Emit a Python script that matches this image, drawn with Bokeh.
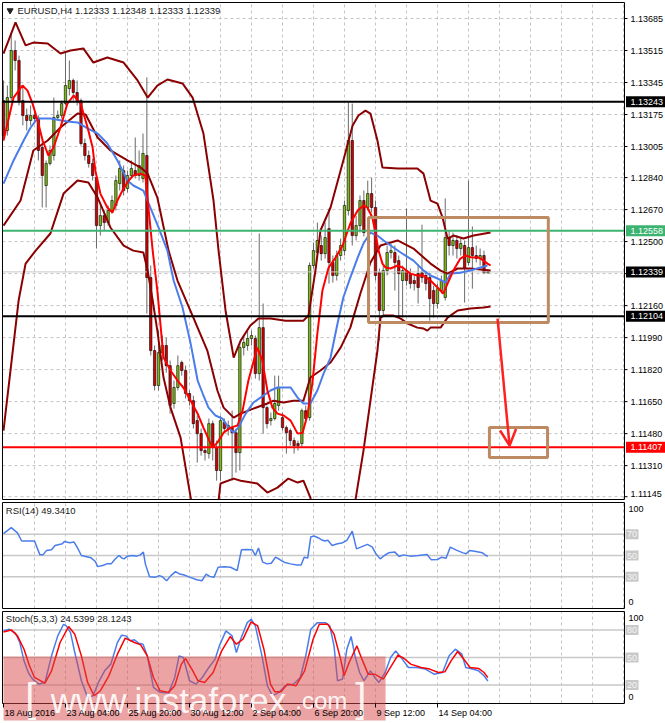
from bokeh.plotting import figure
from bokeh.layouts import column
from bokeh.models import Range1d, Arrow, OpenHead, ColumnDataSource
from bokeh.core.properties import value
from bokeh.embed import file_html
from bokeh.resources import INLINE

# ---------------- data ----------------
bar_open = [
    1.13249, 1.13090, 1.13265, 1.13515, 1.13462, 1.13249, 1.13170, 1.13143, 1.13170, 1.13154,
    1.13000, 1.12798, 1.12915, 1.12957, 1.13159, 1.13170, 1.13233, 1.13313, 1.13356, 1.13292,
    1.13249, 1.13021, 1.12957, 1.12915, 1.12840, 1.12585, 1.12638, 1.12601, 1.12665, 1.12692,
    1.12808, 1.12877, 1.12782, 1.12851, 1.12877, 1.12851, 1.12835, 1.12957, 1.12309, 1.11921,
    1.11735, 1.11910, 1.11948, 1.11841, 1.11640, 1.11725, 1.11858, 1.11815, 1.11693, 1.11655,
    1.11549, 1.11480, 1.11390, 1.11374, 1.11533, 1.11406, 1.11284, 1.11539, 1.11507, 1.11512,
    1.11485, 1.11379, 1.11937, 1.11948, 1.11985, 1.11985, 1.11799, 1.12043, 1.11618, 1.11549,
    1.11560, 1.11629, 1.11565, 1.11512, 1.11496, 1.11443, 1.11427, 1.11427, 1.11602, 1.11565,
    1.12373, 1.12442, 1.12479, 1.12436, 1.12569, 1.12389, 1.12320, 1.12426, 1.12452, 1.12665,
    1.13037, 1.12532, 1.12585, 1.12718, 1.12681, 1.12755, 1.12681, 1.12335, 1.12134, 1.12346,
    1.12442, 1.12442, 1.12399, 1.12293, 1.12346, 1.12330, 1.12293, 1.12330, 1.12335, 1.12320,
    1.12309, 1.12240, 1.12171, 1.12240, 1.12203, 1.12521, 1.12479, 1.12506, 1.12463, 1.12479,
    1.12389, 1.12468, 1.12426, 1.12410, 1.12426, 1.12333]
bar_high = [
    1.13356, 1.13329, 1.13611, 1.13568, 1.13488, 1.13329, 1.13207, 1.13223, 1.13196, 1.13170,
    1.13037, 1.12931, 1.13010, 1.13265, 1.13196, 1.13249, 1.13504, 1.13462, 1.13366, 1.13356,
    1.13260, 1.13047, 1.12984, 1.12941, 1.12851, 1.12692, 1.12665, 1.12692, 1.12745, 1.12851,
    1.12931, 1.12904, 1.12877, 1.12931, 1.13053, 1.12984, 1.13074, 1.13372, 1.12373, 1.11948,
    1.12027, 1.12001, 1.11990, 1.11868, 1.11762, 1.11895, 1.11868, 1.11841, 1.11709, 1.11682,
    1.11576, 1.11507, 1.11416, 1.11560, 1.11549, 1.11443, 1.11576, 1.11560, 1.11549, 1.11602,
    1.11507, 1.11958, 1.12001, 1.12027, 1.12027, 1.12001, 1.12543, 1.12171, 1.11629, 1.11592,
    1.11788, 1.11788, 1.11592, 1.11523, 1.11507, 1.11459, 1.11443, 1.11613, 1.11629, 1.12389,
    1.12495, 1.12601, 1.12532, 1.12601, 1.12676, 1.12426, 1.12452, 1.12516, 1.12718, 1.13239,
    1.13233, 1.12638, 1.12745, 1.12771, 1.12824, 1.12840, 1.12718, 1.12357, 1.12373, 1.12479,
    1.12490, 1.12479, 1.12426, 1.12373, 1.12676, 1.12357, 1.12320, 1.12373, 1.12590, 1.12346,
    1.12335, 1.12266, 1.12277, 1.12320, 1.12729, 1.12559, 1.12548, 1.12532, 1.12516, 1.12506,
    1.12824, 1.12580, 1.12479, 1.12463, 1.12452, 1.12348]
bar_low = [
    1.13037, 1.13063, 1.13249, 1.13409, 1.13223, 1.13117, 1.13090, 1.13117, 1.13127, 1.12931,
    1.12681, 1.12681, 1.12904, 1.12931, 1.13143, 1.13154, 1.13223, 1.13276, 1.13249, 1.13223,
    1.13010, 1.12931, 1.12893, 1.12824, 1.12463, 1.12532, 1.12559, 1.12585, 1.12649, 1.12665,
    1.12771, 1.12745, 1.12761, 1.12835, 1.12835, 1.12824, 1.12814, 1.12118, 1.11895, 1.11709,
    1.11709, 1.11868, 1.11804, 1.11586, 1.11613, 1.11709, 1.11788, 1.11666, 1.11629, 1.11507,
    1.11326, 1.11363, 1.11337, 1.11347, 1.11337, 1.11230, 1.11230, 1.11485, 1.11470, 1.11230,
    1.11273, 1.11284, 1.11895, 1.11921, 1.11948, 1.11772, 1.11762, 1.11480, 1.11507, 1.11523,
    1.11549, 1.11602, 1.11496, 1.11374, 1.11416, 1.11374, 1.11390, 1.11406, 1.11539, 1.11549,
    1.12357, 1.12410, 1.12399, 1.12410, 1.12277, 1.12282, 1.12293, 1.12399, 1.12426, 1.12638,
    1.12479, 1.12506, 1.12548, 1.12527, 1.12665, 1.12654, 1.12293, 1.11974, 1.12107, 1.12320,
    1.12410, 1.12240, 1.12096, 1.12096, 1.12266, 1.12250, 1.12240, 1.12171, 1.12282, 1.12240,
    1.12080, 1.12096, 1.12144, 1.12224, 1.12187, 1.12426, 1.12426, 1.12410, 1.12426, 1.12176,
    1.12373, 1.12250, 1.12389, 1.12373, 1.12330, 1.12333]
bar_close = [
    1.13063, 1.13265, 1.13515, 1.13462, 1.13249, 1.13170, 1.13143, 1.13170, 1.13154, 1.12984,
    1.12851, 1.12915, 1.12984, 1.13159, 1.13170, 1.13233, 1.13329, 1.13356, 1.13292, 1.13249,
    1.13021, 1.12957, 1.12915, 1.12851, 1.12585, 1.12638, 1.12601, 1.12665, 1.12718, 1.12824,
    1.12888, 1.12771, 1.12851, 1.12888, 1.12851, 1.12904, 1.12968, 1.12309, 1.11921, 1.11735,
    1.11910, 1.11948, 1.11841, 1.11629, 1.11725, 1.11841, 1.11815, 1.11693, 1.11655, 1.11533,
    1.11480, 1.11390, 1.11379, 1.11533, 1.11406, 1.11284, 1.11549, 1.11507, 1.11523, 1.11485,
    1.11379, 1.11937, 1.11964, 1.11985, 1.12001, 1.11799, 1.12043, 1.11618, 1.11533, 1.11560,
    1.11640, 1.11725, 1.11512, 1.11485, 1.11443, 1.11416, 1.11416, 1.11602, 1.11560, 1.12373,
    1.12452, 1.12506, 1.12436, 1.12521, 1.12389, 1.12320, 1.12426, 1.12479, 1.12692, 1.13037,
    1.12532, 1.12585, 1.12718, 1.12548, 1.12755, 1.12681, 1.12320, 1.12134, 1.12346, 1.12442,
    1.12452, 1.12389, 1.12330, 1.12346, 1.12293, 1.12277, 1.12277, 1.12256, 1.12309, 1.12277,
    1.12197, 1.12171, 1.12250, 1.12293, 1.12521, 1.12479, 1.12506, 1.12463, 1.12490, 1.12357,
    1.12468, 1.12426, 1.12410, 1.12426, 1.12335, 1.12339]

# indicator lines: (bar index, price)
bb_upper = [
    (0, 1.13499), (3.1, 1.13664), (5.7, 1.13542), (7.7, 1.13557), (11.4, 1.13552), (14.7, 1.13499),
    (17.3, 1.13515), (20.6, 1.13526), (23.2, 1.13451), (26.8, 1.13478), (31.0, 1.13451), (34.6, 1.13356),
    (37.2, 1.13265), (39.7, 1.13329), (42.3, 1.13361), (46.2, 1.13340), (48.8, 1.13265), (51.6, 1.13074),
    (54.2, 1.12718), (55.5, 1.12452), (57.3, 1.12134), (59.4, 1.11884), (61.2, 1.11974), (63.7, 1.12054),
    (65.8, 1.12091), (68.9, 1.12091), (72.8, 1.12080), (77.4, 1.12080), (78.7, 1.12107), (80.5, 1.12346),
    (81.8, 1.12559), (84.4, 1.12681), (87.7, 1.12931), (90.1, 1.13117), (91.6, 1.13170), (93.4, 1.13196),
    (94.7, 1.13180), (96.5, 1.13037), (97.8, 1.12893), (101.7, 1.12888), (106.8, 1.12888), (108.4, 1.12861),
    (110.2, 1.12718), (112.0, 1.12702), (113.3, 1.12628), (114.6, 1.12516), (116.1, 1.12532), (118.7, 1.12516),
    (121.3, 1.12532), (125.7, 1.12548)]
bb_middle = [
    (0, 1.12585), (4.4, 1.12718), (7.7, 1.12984), (11.4, 1.13037), (14.7, 1.13106), (19.1, 1.13180),
    (21.2, 1.13175), (24.3, 1.13053), (27.6, 1.12984), (32.0, 1.12931), (35.4, 1.12893), (37.2, 1.12861),
    (39.7, 1.12734), (42.6, 1.12452), (44.9, 1.12293), (49.0, 1.12096), (52.6, 1.11921), (55.2, 1.11709),
    (56.8, 1.11618), (59.4, 1.11565), (61.2, 1.11586), (64.5, 1.11613), (68.1, 1.11640), (69.7, 1.11655),
    (72.3, 1.11645), (74.8, 1.11655), (77.4, 1.11655), (79.2, 1.11778), (81.8, 1.11815), (84.4, 1.11858),
    (87.0, 1.11937), (89.5, 1.12043), (92.1, 1.12224), (94.7, 1.12389), (97.3, 1.12479), (101.7, 1.12506),
    (105.8, 1.12463), (110.2, 1.12383), (112.8, 1.12346), (114.6, 1.12330), (117.2, 1.12357), (120.5, 1.12357),
    (125.7, 1.12346)]
bb_lower = [
    (0, 1.11496), (1.8, 1.11815), (3.9, 1.12187), (5.7, 1.12383), (8.3, 1.12452), (12.1, 1.12543),
    (15.5, 1.12755), (19.1, 1.12824), (21.9, 1.12814), (24.3, 1.12734), (27.6, 1.12575), (31.0, 1.12479),
    (33.5, 1.12452), (36.1, 1.12442), (37.2, 1.12346), (38.5, 1.12187), (39.7, 1.12027), (41.3, 1.11778),
    (43.1, 1.11618), (45.7, 1.11459), (48.3, 1.11140), (49.8, 1.10965), (52.1, 1.10806), (55.5, 1.11124),
    (56.0, 1.11215), (59.4, 1.11241), (61.2, 1.11230), (65.5, 1.11215), (68.1, 1.11167), (70.7, 1.11193),
    (73.5, 1.11241), (75.9, 1.11220), (77.4, 1.11230), (79.2, 1.11140), (80.5, 1.10965), (85.7, 1.10752),
    (90.8, 1.11124), (92.9, 1.11390), (94.7, 1.11655), (96.5, 1.11921), (97.3, 1.12096), (98.1, 1.12107),
    (100.6, 1.12107), (102.5, 1.12091), (104.3, 1.12065), (106.8, 1.12043), (108.4, 1.12038), (109.4, 1.12027),
    (110.2, 1.12043), (112.8, 1.12043), (114.6, 1.12096), (117.2, 1.12134), (120.5, 1.12144), (123.9, 1.12150),
    (125.7, 1.12155)]
ma_fast = [
    (0, 1.13037), (2.6, 1.13265), (4.9, 1.13329), (6.2, 1.13302), (7.5, 1.13233), (8.8, 1.13143),
    (10.1, 1.13037), (11.6, 1.12957), (12.9, 1.13000), (14.7, 1.13106), (16.5, 1.13233), (18.1, 1.13276),
    (19.9, 1.13233), (21.7, 1.13106), (23.0, 1.13000), (23.7, 1.12877), (25.0, 1.12755), (26.8, 1.12681),
    (28.1, 1.12654), (29.4, 1.12718), (30.7, 1.12771), (32.3, 1.12824), (33.5, 1.12851), (35.4, 1.12861),
    (36.6, 1.12851), (37.4, 1.12681), (38.5, 1.12452), (39.7, 1.12240), (41.3, 1.11884), (43.1, 1.11815),
    (44.9, 1.11762), (46.4, 1.11725), (48.3, 1.11655), (50.1, 1.11586), (51.6, 1.11512), (53.9, 1.11406),
    (55.2, 1.11432), (56.8, 1.11485), (58.6, 1.11512), (60.4, 1.11523), (61.7, 1.11602), (63.2, 1.11762),
    (65.5, 1.11937), (66.8, 1.11868), (68.1, 1.11709), (69.4, 1.11618), (70.7, 1.11586), (72.3, 1.11576),
    (74.1, 1.11549), (75.9, 1.11480), (77.2, 1.11485), (78.5, 1.11586), (79.7, 1.11746), (81.0, 1.12012),
    (82.3, 1.12240), (83.9, 1.12362), (85.7, 1.12415), (87.5, 1.12479), (89.5, 1.12596), (91.4, 1.12665),
    (92.9, 1.12692), (93.9, 1.12681), (95.2, 1.12628), (96.0, 1.12543), (96.8, 1.12452), (97.8, 1.12383),
    (98.6, 1.12362), (99.9, 1.12357), (101.7, 1.12373), (103.0, 1.12362), (105.0, 1.12330), (106.8, 1.12320),
    (108.4, 1.12320), (110.2, 1.12293), (112.0, 1.12256), (113.5, 1.12224), (114.6, 1.12277), (116.1, 1.12346),
    (117.9, 1.12410), (119.2, 1.12426), (121.0, 1.12415), (122.6, 1.12415), (123.9, 1.12399), (124.9, 1.12383),
    (125.7, 1.12373)]
ma_slow = [
    (0, 1.12808), (2.6, 1.12931), (5.2, 1.13037), (7.0, 1.13106), (8.8, 1.13154), (12.1, 1.13154),
    (16.5, 1.13138), (19.1, 1.13133), (21.7, 1.13101), (24.3, 1.13074), (26.8, 1.13021), (29.4, 1.12931),
    (32.0, 1.12824), (33.5, 1.12798), (36.1, 1.12771), (37.9, 1.12681), (40.0, 1.12575), (42.3, 1.12452),
    (43.9, 1.12293), (46.2, 1.12150), (48.3, 1.11958), (50.1, 1.11762), (51.4, 1.11693), (52.9, 1.11618),
    (54.7, 1.11576), (56.5, 1.11560), (58.1, 1.11512), (59.4, 1.11485), (60.6, 1.11512), (62.5, 1.11586),
    (64.5, 1.11645), (66.3, 1.11671), (68.9, 1.11709), (70.7, 1.11725), (74.1, 1.11725), (75.9, 1.11671),
    (77.4, 1.11640), (79.2, 1.11640), (81.0, 1.11709), (82.6, 1.11799), (84.4, 1.11884), (86.2, 1.12065),
    (87.7, 1.12203), (89.5, 1.12309), (91.4, 1.12415), (92.9, 1.12490), (94.7, 1.12548), (96.5, 1.12532),
    (98.1, 1.12506), (99.9, 1.12479), (102.5, 1.12442), (105.8, 1.12399), (108.4, 1.12346), (110.2, 1.12320),
    (112.0, 1.12304), (114.1, 1.12282), (115.4, 1.12330), (117.9, 1.12335), (120.5, 1.12346), (123.1, 1.12362),
    (124.9, 1.12373)]

price_ticks = [1.13685, 1.13515, 1.13345, 1.13175, 1.13005, 1.12840, 1.12670, 1.12500,
               1.12330, 1.12160, 1.11990, 1.11820, 1.11650, 1.11480, 1.11310, 1.11145]
level_black = [1.13243, 1.12104]
level_green = 1.12558
level_red = 1.11407
bid_price = 1.12339
title_text = "EURUSD,H4  1.12333 1.12348 1.12333 1.12339"

date_ticks = [0, 16, 32, 48, 64, 80, 96, 112]
date_labels = ["18 Aug 2016", "23 Aug 04:00", "25 Aug 20:00", "30 Aug 12:00",
               "2 Sep 04:00", "6 Sep 20:00", "9 Sep 12:00", "14 Sep 04:00"]
grid_bars = list(range(8, 161, 8))

# range box and target box (bar from, bar to, price top, price bottom)
zone_box = (94.2, 140.6, 1.12628, 1.12070)
target_box = (125.4, 140.4, 1.11512, 1.11353)
arrow_from = (127.5, 1.12091)
arrow_to = (130.6, 1.11416)

rsi_title = "RSI(14) 49.3410"
rsi_bar = [0, 2, 3.6, 4.7, 8, 9.4, 10.2, 11.1, 12.4, 13.3, 15.2, 15.7, 17.1, 18.2, 19, 20.1, 21.2, 22.6,
           23.7, 24.3, 25.6, 26.7, 27.8, 28.7, 29.8, 30.6, 31.1, 32, 33.3, 34.4, 35.3, 36.1, 36.6, 37.7,
           39.1, 40.2, 41, 42.1, 43.2, 44.4, 45.5, 46.6, 48.2, 49.9, 51.2, 52.3, 53.2, 54.3, 55.4, 57,
           58.6, 60.3, 61.4, 62.8, 64.2, 65, 65.8, 66.9, 68, 69.1, 70.2, 71.3, 72.4, 74.1, 75.7, 76.8,
           77.6, 78.5, 79.3, 80.1, 81.2, 82, 82.9, 83.7, 84.8, 86.2, 87.3, 88.6, 90, 91.1, 92.2, 93.9,
           95.2, 96.1, 97.2, 98.3, 99.4, 101, 102.1, 103.2, 104.9, 107.1, 109.3, 110.4, 112, 113.1,
           114.2, 115.3, 117, 118.6, 119.4, 120.3, 121.9, 123.6, 124.5, 125]
rsi_val = [70.6, 76.3, 71.3, 63.7, 63.7, 50.6, 50.6, 54.8, 55.4, 59.5, 61.1, 63.3, 62.1, 62.7, 57.9, 50.0,
           49.0, 47.8, 44.3, 39.5, 40.5, 42.1, 42.1, 46.2, 50.0, 47.5, 46.8, 49.4, 50.0, 49.4, 50.6, 53.2,
           42.1, 30.0, 29.4, 31.0, 30.0, 26.2, 31.0, 34.8, 32.5, 31.6, 29.4, 27.1, 26.2, 32.5, 30.3, 29.4,
           38.9, 39.5, 38.9, 35.7, 55.4, 55.7, 55.4, 50.0, 57.0, 43.7, 42.1, 42.7, 48.4, 46.2, 43.7, 42.1,
           41.1, 41.1, 48.4, 47.5, 67.5, 68.4, 66.8, 64.9, 63.7, 64.3, 59.5, 61.1, 61.7, 64.3, 72.9, 56.3,
           57.9, 60.5, 57.9, 51.6, 46.8, 50.0, 52.5, 53.2, 49.0, 50.6, 49.4, 50.0, 51.0, 45.9, 46.2, 48.4,
           47.5, 57.9, 54.8, 52.5, 51.6, 54.8, 53.8, 52.5, 50.0, 49.3]
rsi_levels = [70, 50, 30]

stoch_title = "Stoch(5,3,3) 24.5399 28.1243"
stoch_k_bar = [0, 1.4, 3.1, 4.2, 5.3, 6.4, 7.5, 9.1, 10.7, 12.4, 14.0, 15.5, 16.2, 17.3, 18.4, 20.1, 21.7,
               23.1, 24.5, 26.1, 27.7, 29.4, 30.5, 31.6, 32.7, 33.8, 34.9, 36.0, 37.1, 38.7, 40.4, 42.6,
               44.2, 45.3, 46.4, 48.0, 49.7, 51.3, 53.0, 54.6, 55.7, 57.4, 59.0, 60.1, 61.2, 62.9, 63.9,
               65.0, 66.7, 68.1, 69.4, 71.1, 72.7, 74.9, 76.6, 78.0, 79.3, 81.0, 83.1, 84.2, 85.3, 86.2,
               87.5, 88.6, 89.7, 90.8, 91.9, 93.0, 94.7, 95.8, 96.9, 98.5, 99.9, 101.2, 102.9, 104.5,
               106.7, 108.9, 111.1, 113.3, 115.0, 116.6, 118.3, 119.3, 121.0, 122.6, 124.0, 125]
stoch_k_val = [78.9, 80.7, 76.4, 66.3, 46.4, 33.7, 26.5, 21.1, 22.9, 51.8, 73.5, 86.1, 84.3, 77.1, 55.4,
               24.7, 6.6, 8.4, 22.9, 35.5, 42.8, 66.3, 74.2, 73.5, 68.1, 69.2, 65.5, 64.5, 51.8, 17.5,
               12.1, 11.3, 28.3, 51.8, 50.0, 24.7, 21.1, 28.3, 39.2, 48.2, 62.6, 78.9, 73.5, 55.4, 69.9,
               87.9, 91.6, 84.3, 51.8, 19.3, 8.4, 12.1, 19.3, 21.1, 28.3, 51.8, 80.7, 87.9, 87.9, 84.3,
               62.6, 24.7, 26.5, 59.0, 72.8, 50.0, 33.7, 24.7, 35.5, 28.3, 22.9, 33.7, 50.0, 57.2, 48.2,
               39.2, 39.2, 37.4, 31.9, 33.7, 51.8, 59.0, 53.6, 39.2, 37.4, 35.5, 30.1, 24.5]
stoch_d_bar = [0, 2.0, 3.6, 5.3, 6.7, 8.0, 10.7, 12.4, 14.6, 16.8, 18.4, 20.1, 21.7, 23.4, 25.0, 27.2,
               29.4, 31.4, 33.8, 35.4, 37.1, 38.7, 40.4, 42.6, 44.2, 45.9, 47.0, 48.6, 50.2, 51.9, 54.1,
               56.3, 58.5, 60.1, 61.8, 63.9, 65.6, 67.2, 68.9, 70.0, 71.6, 73.3, 75.5, 77.7, 79.9, 81.5,
               83.7, 85.3, 87.0, 87.9, 89.2, 91.2, 92.5, 94.1, 95.8, 98.0, 100.1, 101.8, 103.4, 105.1,
               107.8, 110.0, 112.2, 113.9, 115.5, 117.2, 118.8, 120.4, 122.6, 124.0, 125]
stoch_d_val = [77.8, 80.0, 73.5, 59.0, 41.0, 28.3, 22.2, 35.5, 66.3, 83.6, 75.3, 51.8, 22.9, 8.4, 13.9,
               30.1, 53.6, 71.0, 66.3, 63.7, 51.8, 28.3, 13.9, 12.1, 19.3, 42.8, 48.9, 37.4, 24.7, 22.9,
               33.7, 57.2, 72.8, 64.5, 69.9, 88.7, 84.3, 59.0, 21.1, 12.8, 12.8, 21.1, 19.3, 35.5, 69.9,
               86.1, 86.1, 75.3, 48.2, 30.1, 44.6, 62.6, 48.2, 31.9, 31.9, 26.5, 41.0, 52.5, 48.9, 42.8,
               39.2, 37.4, 33.7, 34.5, 46.4, 56.5, 48.2, 39.2, 38.1, 33.7, 28.1]
stoch_levels = [80, 50, 20]
watermark_text = ["[", "www.instaforex", ".com", "]"]
watermark_bar = [5.6, 12.2, 75.3, 90.8]

# ---------------- geometry / style ----------------
FONT = "Liberation Sans"
W = 665
XA, XB = -0.774, 170.84         # whole canvas in bar units
XL, XF = -0.258, 160.26         # chart frame left / right edge
XR = Range1d(XA, XB)
PXB = W / (XB - XA)             # pixels per bar


def bx(px):
    return px / PXB


GRID_C = "#C4C4C4"
LEVEL_C = "#C8C8C8"
BAND_C = "#8B0000"
BLUE_C = "#4A7DEB"
BULL_C = "#7DBB12"
BEAR_C = "#D40000"
WICK_C = "#6A6A6A"
BOX_C = "#BD8A62"


def panel(h, y0, y1):
    p = figure(width=W, height=h, x_range=XR, y_range=Range1d(y0, y1), output_backend="svg",
               toolbar_location=None, tools="", x_axis_location=None, y_axis_location=None,
               min_border=0, min_border_left=0, min_border_right=0, min_border_top=0,
               min_border_bottom=0)
    p.outline_line_color = None
    p.xgrid.visible = False
    p.ygrid.visible = False
    p.background_fill_color = "white"
    p.border_fill_color = "white"
    return p


def txt(p, xs, ys, texts, color="black", size="9px", align="left", baseline="middle", alpha=1.0):
    p.text(x=xs, y=ys, text=texts, text_font=value(FONT), text_font_size=value(size),
           text_color=color, text_align=align, text_baseline=baseline, text_alpha=alpha)


def vgrid(p, y0, y1):
    p.segment(x0=grid_bars, x1=grid_bars, y0=[y0] * len(grid_bars), y1=[y1] * len(grid_bars),
              line_color=GRID_C, line_dash="3 3", line_width=1)


def border(p, y0, y1):
    p.quad(left=[XL], right=[XF], bottom=[y0], top=[y1], fill_color=None,
           line_color="black", line_width=1)


def level_tags(p, levels, k):
    p.quad(left=[XF + bx(1)] * len(levels), right=[XF + bx(14)] * len(levels),
           bottom=[v - 5 / k for v in levels], top=[v + 5 / k for v in levels],
           fill_color=LEVEL_C, line_color=None)
    txt(p, [XF + bx(2.5)] * len(levels), levels, [str(v) for v in levels], color="#F6F6F6")


# ---------------- main price panel (canvas rows 0..500, frame 2..499) ----------------
M_TOP, M_BOT = 1.13770, 1.11130
MK = 497.0 / (M_TOP - M_BOT)
pm = panel(500, M_BOT - 1.0 / MK, M_TOP + 2.0 / MK)

vgrid(pm, M_BOT, M_TOP)
pm.segment(x0=[XL] * len(price_ticks), x1=[XF] * len(price_ticks), y0=price_ticks, y1=price_ticks,
           line_color=GRID_C, line_dash="3 3", line_width=1)

idx = list(range(len(bar_close)))
src = ColumnDataSource(dict(
    x=idx, o=bar_open, h=bar_high, l=bar_low, c=bar_close,
    top=[max(a, b) for a, b in zip(bar_open, bar_close)],
    bot=[min(a, b) for a, b in zip(bar_open, bar_close)],
    col=[BULL_C if c >= o else BEAR_C for o, c in zip(bar_open, bar_close)]))
pm.segment(x0="x", y0="l", x1="x", y1="h", source=src, line_color=WICK_C, line_width=1)
pm.vbar(x="x", width=0.62, top="top", bottom="bot", source=src, fill_color="col",
        line_color="black", line_width=0.6)

pm.segment(x0=[XL], x1=[XF], y0=[bid_price], y1=[bid_price], line_color=LEVEL_C, line_width=1)
for pts, colr, wd in [(bb_upper, BAND_C, 2), (bb_middle, BAND_C, 2), (bb_lower, BAND_C, 2),
                      (ma_slow, BLUE_C, 2), (ma_fast, "#FF0000", 2)]:
    pm.line([a for a, b in pts], [b for a, b in pts], line_color=colr, line_width=wd)

hl = [level_black[0], level_green, level_black[1], level_red]
hl_c = ["black", "#3CB371", "black", "#FF0000"]
pm.segment(x0=[XL] * 4, x1=[XF] * 4, y0=hl, y1=hl, line_color=hl_c, line_width=2)

pm.quad(left=[zone_box[0], target_box[0]], right=[zone_box[1], target_box[1]],
        top=[zone_box[2], target_box[2]], bottom=[zone_box[3], target_box[3]],
        fill_color=None, line_color=BOX_C, line_width=3)
pm.add_layout(Arrow(end=OpenHead(size=16, line_color="#FF2020", line_width=2.5),
                    x_start=arrow_from[0], y_start=arrow_from[1], x_end=arrow_to[0], y_end=arrow_to[1],
                    line_color="#FF2020", line_width=2.5))

border(pm, M_BOT, M_TOP)
# price scale (the lowest label is lifted a little so it stays inside the canvas)
pm.segment(x0=[XF] * len(price_ticks), x1=[XF + bx(3)] * len(price_ticks), y0=price_ticks,
           y1=price_ticks, line_color="black", line_width=1)
label_y = [max(t, M_BOT + 5.5 / MK) for t in price_ticks]
txt(pm, [XF + bx(6)] * len(price_ticks), label_y, ["%.5f" % t for t in price_ticks])
tag_y = [level_black[0], level_green, bid_price, level_black[1], level_red]
tag_bg = ["black", "#3CB371", "black", "black", "#FF0000"]
hh = 5.5 / MK
pm.quad(left=[XF + bx(1.5)] * 5, right=[XB] * 5, bottom=[y - hh for y in tag_y],
        top=[y + hh for y in tag_y], fill_color=tag_bg, line_color=None)
txt(pm, [XF + bx(6)] * 5, tag_y, ["%.5f" % t for t in tag_y], color="white")

pm.scatter([1.7], [1.137275], marker="inverted_triangle", size=6, color="#202020")
txt(pm, [3.6], [1.137275], [title_text], color="#202020", size="9.5px")

# ---------------- RSI panel (canvas rows 500..609, frame 502..608) ----------------
RK = 106.0 / 100
pr = panel(109, 0 - 1.0 / RK, 100 + 2.0 / RK)
vgrid(pr, 0, 100)
pr.segment(x0=[XL] * 3, x1=[XF] * 3, y0=rsi_levels, y1=rsi_levels, line_color=LEVEL_C, line_width=1.5)
pr.line(rsi_bar, rsi_val, line_color=BLUE_C, line_width=1.5)
border(pr, 0, 100)
txt(pr, [XF + bx(4)] * 2, [100 - 6 / RK, 0 + 7 / RK], ["100", "0"])
level_tags(pr, rsi_levels, RK)
txt(pr, [0.6], [100 - 8 / RK], [rsi_title], color="#202020", size="9.5px")

# ---------------- Stochastic panel (canvas rows 609..723, frame 611..703) ----------------
SK = 92.0 / 100
ps = panel(114, 0 - 20.0 / SK, 100 + 2.0 / SK)
vgrid(ps, 0, 100)
ps.segment(x0=[XL] * 3, x1=[XF] * 3, y0=stoch_levels, y1=stoch_levels, line_color=LEVEL_C,
           line_width=1.5)
ps.line(stoch_k_bar, stoch_k_val, line_color=BLUE_C, line_width=1.5)
ps.line(stoch_d_bar, stoch_d_val, line_color="#FF0000", line_width=1.5)
border(ps, 0, 100)
txt(ps, [XF + bx(4)] * 2, [100 - 6 / SK, 0 + 7 / SK], ["100", "0"])
level_tags(ps, stoch_levels, SK)
txt(ps, [0.6], [100 - 7 / SK], [stoch_title], color="#202020", size="9.5px")

# watermark
ps.quad(left=[0], right=[98.6], top=[51.1], bottom=[-17.0 / SK], fill_color="#D94848",
        fill_alpha=0.5, line_color=None)
wm_y = 3.0 / SK
for i, sz in enumerate(["40px", "35px", "24px", "40px"]):
    yy = wm_y + (2.5 / SK if sz == "40px" else 0)
    txt(ps, [watermark_bar[i]], [yy], [watermark_text[i]], color="white", size=sz,
        baseline="alphabetic", alpha=0.9)

# date scale
ps.segment(x0=date_ticks, x1=date_ticks, y0=[0] * len(date_ticks), y1=[-4 / SK] * len(date_ticks),
           line_color="black", line_width=1)
txt(ps, [t + bx(1) for t in date_ticks], [-9.0 / SK] * len(date_ticks), date_labels)

layout = column(pm, pr, ps)
open("out.html", "w").write(file_html(layout, INLINE))
